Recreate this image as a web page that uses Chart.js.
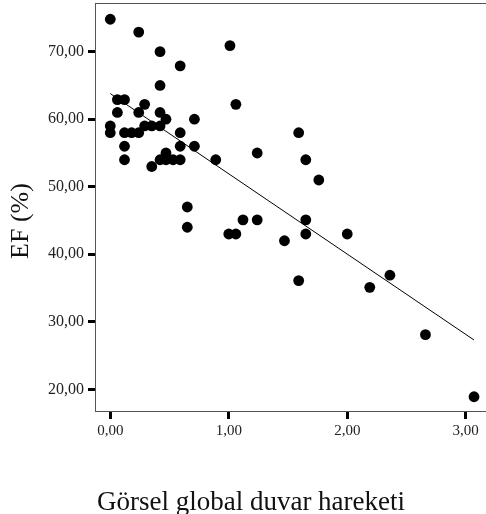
<!DOCTYPE html>
<html>
<head>
<meta charset="utf-8">
<script src="https://cdn.jsdelivr.net/npm/chart.js@4"></script>
<style>
  body { margin: 0; background: #fff; }
  canvas { display: block; }
</style>
</head>
<body>
<canvas id="efChart" width="486" height="514"></canvas>
<script>
// wall motion score vs EF
const wallMotion = [
    0.00, 0.24, 0.42, 0.59, 1.01, 0.42, 0.06, 0.12, 0.29, 0.06,
    0.24, 0.42, 0.47, 0.71, 1.06, 0.00, 0.00, 0.12, 0.18, 0.24,
    0.29, 0.35, 0.42, 0.59, 0.12, 0.59, 0.71, 0.12, 0.35, 0.42,
    0.47, 0.53, 0.59, 0.47, 0.89, 0.65, 0.65, 1.00, 1.06, 1.12,
    1.24, 1.24, 1.59, 1.65, 1.76, 1.65, 1.65, 1.47, 2.00, 1.59,
    2.19, 2.36, 2.66, 3.07
];
const efValues = [
    74.8, 72.9, 70.0, 67.9, 70.9, 65.0, 62.9, 62.9, 62.2, 61.0,
    61.0, 61.0, 60.0, 60.0, 62.2, 59.0, 58.0, 58.0, 58.0, 58.0,
    59.0, 59.0, 59.0, 58.0, 56.0, 56.0, 56.0, 54.0, 53.0, 54.0,
    54.0, 54.0, 54.0, 55.0, 54.0, 47.0, 44.0, 43.0, 43.0, 45.1,
    45.1, 55.0, 58.0, 54.0, 51.0, 45.1, 43.0, 42.0, 43.0, 36.1,
    35.1, 36.9, 28.1, 18.9
];

// fit line ends
const fitX = [0.00, 3.07];
const fitY = [63.8, 27.3];

const xTicks = [0, 1, 2, 3];
const yTicks = [20, 30, 40, 50, 60, 70];

const xTitle = "Görsel global duvar hareketi";
const yTitle = "EF (%)";

const serif = "'Liberation Serif', 'DejaVu Serif', serif";

function fmt(v) {
    return v.toFixed(2).replace(".", ",");
}

// frame top line + axis titles at their own spots
const extras = {
    id: "extras",
    afterDraw(chart) {
        const ctx = chart.ctx;
        const area = chart.chartArea;
        ctx.save();
        ctx.strokeStyle = "#555";
        ctx.lineWidth = 1;
        ctx.beginPath();
        ctx.moveTo(area.left, area.top + 0.5);
        ctx.lineTo(area.right, area.top + 0.5);
        ctx.stroke();

        ctx.fillStyle = "#111";
        ctx.font = "27px " + serif;
        ctx.textAlign = "center";
        ctx.textBaseline = "alphabetic";
        ctx.fillText(xTitle, 251, 510);

        ctx.translate(28, 221);
        ctx.rotate(-Math.PI / 2);
        ctx.font = "26px " + serif;
        ctx.fillText(yTitle, 0, 0);
        ctx.restore();
    }
};

const points = wallMotion.map((x, i) => ({ x: x, y: efValues[i] }));
const fitLine = fitX.map((x, i) => ({ x: x, y: fitY[i] }));

new Chart(document.getElementById("efChart"), {
    type: "scatter",
    data: {
        datasets: [
            {
                data: points,
                backgroundColor: "#000",
                borderWidth: 0,
                pointRadius: 5.4,
                pointHoverRadius: 5.4
            },
            {
                type: "line",
                data: fitLine,
                borderColor: "#000",
                borderWidth: 1,
                pointRadius: 0,
                fill: false
            }
        ]
    },
    options: {
        responsive: false,
        animation: false,
        devicePixelRatio: 1,
        layout: {
            autoPadding: false,
            padding: { top: 3, right: 0, left: 0, bottom: 0 }
        },
        plugins: {
            legend: { display: false },
            tooltip: { enabled: false }
        },
        scales: {
            x: {
                type: "linear",
                min: -0.129,
                max: 3.171,
                afterBuildTicks: s => { s.ticks = xTicks.map(v => ({ value: v })); },
                afterFit: s => {
                    s.height = 103;
                    s.paddingLeft = 0;
                    s.paddingRight = 0;
                },
                grid: {
                    drawOnChartArea: false,
                    drawTicks: true,
                    tickLength: 8,
                    tickWidth: 3,
                    tickColor: "#000"
                },
                border: { display: true, color: "#555", width: 1 },
                ticks: {
                    padding: 3,
                    color: "#222",
                    font: { family: serif, size: 15 },
                    maxRotation: 0,
                    callback: v => fmt(v)
                }
            },
            y: {
                type: "linear",
                min: 16.79,
                max: 77.21,
                afterBuildTicks: s => { s.ticks = yTicks.map(v => ({ value: v })); },
                afterFit: s => {
                    s.width = 95;
                    s.paddingTop = 0;
                    s.paddingBottom = 0;
                },
                grid: {
                    drawOnChartArea: false,
                    drawTicks: true,
                    tickLength: 7,
                    tickWidth: 3,
                    tickColor: "#000"
                },
                border: { display: true, color: "#555", width: 1 },
                ticks: {
                    padding: 4,
                    color: "#222",
                    font: { family: serif, size: 16 },
                    callback: v => fmt(v)
                }
            }
        }
    },
    plugins: [extras]
});
</script>
</body>
</html>
